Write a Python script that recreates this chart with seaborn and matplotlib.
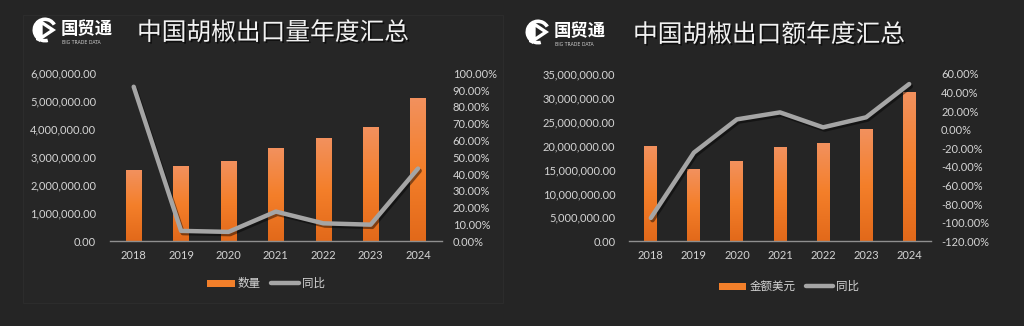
import numpy as np
import matplotlib
matplotlib.use("Agg")
import matplotlib.pyplot as plt
import seaborn as sns
from matplotlib import patheffects as pe
from matplotlib.patches import Patch, Rectangle, Wedge, Polygon
from matplotlib.lines import Line2D
from matplotlib.colors import LinearSegmentedColormap
from matplotlib.ticker import FuncFormatter, MultipleLocator

# ---- data -------------------------------------------------------------
years = ["2018", "2019", "2020", "2021", "2022", "2023", "2024"]
qty = [2510000, 2650000, 2830000, 3300000, 3650000, 4050000, 5080000]
qty_yoy = [92.0, 6.2, 5.6, 17.7, 10.7, 9.9, 43.3]
amount_usd = [19730000, 14920000, 16600000, 19530000, 20360000, 23290000, 31030000]
amount_yoy = [-94.9, -24.6, 11.2, 18.7, 2.6, 13.4, 49.2]

title_qty = "中国胡椒出口量年度汇总"
title_amt = "中国胡椒出口额年度汇总"
brand = "国贸通"
brand_sub = "BIG TRADE DATA"

# ---- style ------------------------------------------------------------
BG = "#252525"
TXT = "#d4d4d4"
LINE = "#a5a5a5"
ORANGE = "#f27f2a"
bar_cmap = LinearSegmentedColormap.from_list(
    "bar", ["#e2691a", "#f47f2a", "#f2915e"])

sns.set_theme(style="dark")
plt.rcParams["font.family"] = ["Lato", "Noto Sans CJK SC", "DejaVu Sans"]
plt.rcParams["axes.facecolor"] = "none"
plt.rcParams["figure.facecolor"] = BG

W, H = 1024, 326
fig = plt.figure(figsize=(W / 100, H / 100), dpi=100)

# full-figure overlay in pixel coordinates for decorations
deco = fig.add_axes([0, 0, 1, 1], zorder=0)
deco.set_xlim(0, W)
deco.set_ylim(H, 0)
deco.axis("off")
deco.add_patch(Rectangle((23, 15), 480, 288, facecolor="#262626",
                         edgecolor="#2c2c2c", lw=0.8))


def draw_logo(cx, cy):
    deco.add_patch(Wedge((cx, cy), 12.5, 75, 330, width=3.6,
                         facecolor="white", edgecolor="none"))
    deco.add_patch(Polygon([[cx - 4, cy - 8], [cx + 8, cy], [cx - 4, cy + 8]],
                           closed=True, facecolor="none", edgecolor="white", lw=2.4))
    deco.add_patch(Polygon([[cx - 9, cy - 9], [cx - 5, cy - 9],
                            [cx - 5, cy + 12], [cx - 9, cy + 10]],
                           closed=True, facecolor="white", edgecolor="none"))
    deco.text(cx + 16, cy - 1, brand, color="white", fontsize=12.5,
              fontweight="bold", ha="left", va="center",
              family=["Noto Sans CJK SC"])
    deco.text(cx + 17, cy + 12, brand_sub, color="#cfcfcf", fontsize=3.3,
              ha="left", va="center", family=["DejaVu Sans"])


draw_logo(45, 30)
draw_logo(538, 32)

shadow_txt = [pe.SimplePatchShadow(offset=(1.2, -1.2), shadow_rgbFace="black",
                                   alpha=0.6), pe.Normal()]
fig.text(137 / W, 1 - 33 / H, title_qty, color="#f2f2f2", fontsize=17.8,
         fontweight="medium", ha="left", va="center",
         family=["Noto Sans CJK SC"], path_effects=shadow_txt)
fig.text(633 / W, 1 - 35 / H, title_amt, color="#f2f2f2", fontsize=17.8,
         fontweight="medium", ha="left", va="center",
         family=["Noto Sans CJK SC"], path_effects=shadow_txt)


def money_fmt(v, _):
    return f"{v:,.2f}"


def pct_fmt(v, _):
    return f"{v:.2f}%"


def gradient_bars(ax):
    grad = np.linspace(0, 1, 256).reshape(-1, 1)
    for p in list(ax.patches):
        x, w, h = p.get_x(), p.get_width(), p.get_height()
        ax.imshow(grad, extent=(x, x + w, 0, h), aspect="auto", cmap=bar_cmap,
                  origin="lower", zorder=2, interpolation="bilinear")
        p.set_visible(False)


def combo(rect, values, yoy, bar_width, ymax, ystep, y2lim, y2step,
          bar_label, legend_xy, lpad, rpad):
    ax = fig.add_axes(rect, zorder=2)
    sns.barplot(x=years, y=values, ax=ax, color=ORANGE, width=bar_width,
                saturation=1)
    gradient_bars(ax)
    ax.set_xlim(-0.5, 6.5)
    ax.set_ylim(0, ymax)
    ax.yaxis.set_major_locator(MultipleLocator(ystep))
    ax.yaxis.set_major_formatter(FuncFormatter(money_fmt))
    ax.set_xlabel("")
    ax.set_ylabel("")
    ax.grid(False)
    for s in ("top", "left", "right"):
        ax.spines[s].set_visible(False)
    ax.spines["bottom"].set_visible(True)
    ax.spines["bottom"].set_color("#8f8f8f")
    ax.spines["bottom"].set_linewidth(1.0)
    ax.tick_params(axis="y", colors=TXT, labelsize=8, length=0, pad=lpad)
    ax.tick_params(axis="x", colors=TXT, labelsize=8, length=0, pad=6.5)

    ax2 = ax.twinx()
    ax2.set_zorder(3)
    sns.lineplot(x=years, y=yoy, ax=ax2, color=LINE, lw=3.2, legend=False,
                 sort=False, solid_capstyle="round", solid_joinstyle="round",
                 path_effects=[pe.SimpleLineShadow(offset=(1.2, -1.6),
                                                   shadow_color="black",
                                                   alpha=0.45),
                               pe.Normal()])
    ax2.set_xlim(-0.5, 6.5)
    ax2.set_ylim(*y2lim)
    ax2.yaxis.set_major_locator(MultipleLocator(y2step))
    ax2.yaxis.set_major_formatter(FuncFormatter(pct_fmt))
    ax2.set_ylabel("")
    ax2.grid(False)
    for s in ax2.spines.values():
        s.set_visible(False)
    ax2.tick_params(axis="y", colors=TXT, labelsize=8, length=0, pad=rpad)

    handles = [Patch(facecolor=ORANGE, edgecolor="none", label=bar_label),
               Line2D([0], [0], color=LINE, lw=3.2, solid_capstyle="round",
                      label="同比")]
    fig.legend(handles=handles, loc="center", bbox_to_anchor=legend_xy,
               ncol=2, frameon=False, fontsize=8.3, labelcolor=TXT,
               handlelength=2.4, handleheight=0.55, handletextpad=0.25,
               columnspacing=0.9)
    return ax, ax2


combo([110 / W, 1 - 241.3 / H, 331.7 / W, 168 / H], qty, qty_yoy,
      0.32, 6000000, 1000000, (0, 100), 10, "数量",
      (266 / W, 1 - 283.5 / H), 10, 8)
combo([629.3 / W, 1 - 241.3 / H, 301.4 / W, 167.3 / H], amount_usd, amount_yoy,
      0.30, 35000000, 5000000, (-120, 60), 20, "金额美元",
      (789 / W, 1 - 286.5 / H), 10, 7.5)

fig.savefig("out.png", dpi=100, facecolor=BG)
